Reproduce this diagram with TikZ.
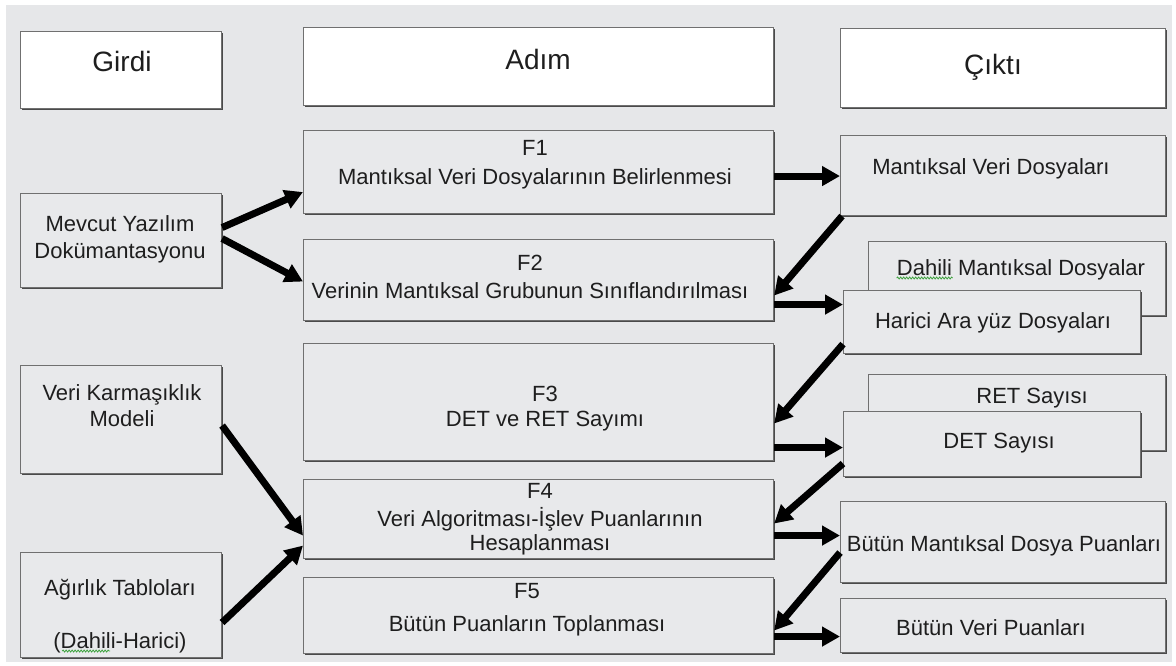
\documentclass[tikz,border=0pt]{standalone}
\usepackage{fontspec}
\setmainfont{Liberation Sans}
\usetikzlibrary{arrows.meta,shadows,decorations.pathmorphing}
\definecolor{bggray}{HTML}{E6E7E9}
\definecolor{boxgray}{HTML}{E8E9EB}
\definecolor{edge}{HTML}{707070}
\definecolor{shade}{HTML}{4A4A4A}
\definecolor{ink}{HTML}{1E1E1E}
\definecolor{spell}{HTML}{3FA33F}
\begin{document}
\begin{tikzpicture}[x=1pt,y=-1pt,
  box/.style={draw=edge, line width=1.1pt, fill=boxgray, anchor=north west, inner sep=0pt,
    drop shadow={shadow xshift=1.8pt,shadow yshift=-1.8pt,fill=shade,opacity=1}},
  wbox/.style={box, fill=white},
  txt/.style={anchor=base, inner sep=0pt, text=ink, font=\fontsize{22}{26}\selectfont},
  ttl/.style={anchor=base, inner sep=0pt, text=ink, font=\fontsize{28}{32}\selectfont},
  arr/.style={line width=7pt, draw=black, -{Triangle[length=18pt,width=19pt]}},
  squig/.style={draw=spell, line width=0.8pt, decorate, decoration={snake, amplitude=1pt, segment length=3pt}}
]
\useasboundingbox (0,0) rectangle (1176,666);
\fill[white] (0,0) rectangle (1176,666);
\fill[bggray] (6,5) rectangle (1172,662);

% title boxes
\node[wbox, minimum width=201pt, minimum height=77pt] (girdi) at (20,31) {};
\node[wbox, minimum width=470pt, minimum height=78pt] (adim) at (303,27) {};
\node[wbox, minimum width=325pt, minimum height=79pt] (cikti) at (840,28) {};
\node[ttl] (girdit) at (122,72) {Girdi};
\node[ttl] (adimt) at (538,70) {Adım};
\node[ttl] (ciktit) at (993,75) {Çıktı};

% input column
\node[box, minimum width=201pt, minimum height=94pt] (mev) at (20,193) {};
\node[box, minimum width=201pt, minimum height=108pt] (vk) at (20,365) {};
\node[box, minimum width=201pt, minimum height=105pt] (ag) at (20,552) {};
\node[txt] (meva) at (120,231) {Mevcut Yazılım};
\node[txt] (mevb) at (120,258) {Dokümantasyonu};
\node[txt] (vka) at (122,400) {Veri Karmaşıklık};
\node[txt] (vkb) at (122,426) {Modeli};
\node[txt] (aga) at (120,595) {Ağırlık Tabloları};
\node[txt] (agb) at (120,648) {(Dahili-Harici)};
\draw[squig] (agb.base west) ++(9,3) -- ++(48,0);

% step column
\node[box, minimum width=470pt, minimum height=83pt] (f1) at (303,130) {};
\node[box, minimum width=470pt, minimum height=81pt] (f2) at (303,239) {};
\node[box, minimum width=470pt, minimum height=117pt] (f3) at (303,343) {};
\node[box, minimum width=470pt, minimum height=79pt] (f4) at (303,479) {};
\node[box, minimum width=470pt, minimum height=76pt] (f5) at (303,577) {};
\node[txt] (f1a) at (535,156) {F1};
\node[txt] (f1b) at (535,185) {Mantıksal Veri Dosyalarının Belirlenmesi};
\node[txt] (f2a) at (530,270) {F2};
\node[txt] (f2b) at (530,298) {Verinin Mantıksal Grubunun Sınıflandırılması};
\node[txt] (f3a) at (545,401) {F3};
\node[txt] (f3b) at (545,426) {DET ve RET Sayımı};
\node[txt] (f4a) at (540,498) {F4};
\node[txt] (f4b) at (540,526) {Veri Algoritması-İşlev Puanlarının};
\node[txt] (f4c) at (540,550) {Hesaplanması};
\node[txt] (f5a) at (527,598) {F5};
\node[txt] (f5b) at (527,631) {Bütün Puanların Toplanması};

% output column
\node[box, minimum width=325pt, minimum height=80pt] (mvd) at (840,135) {};
\node[box, minimum width=297pt, minimum height=74pt] (dah) at (868,241) {};
\node[box, minimum width=297pt, minimum height=63pt] (har) at (843,290) {};
\node[box, minimum width=297pt, minimum height=76pt] (ret) at (868,374) {};
\node[box, minimum width=297pt, minimum height=65pt] (det) at (843,411) {};
\node[box, minimum width=325pt, minimum height=81pt] (bmdp) at (840,501) {};
\node[box, minimum width=325pt, minimum height=54pt] (bvp) at (840,598) {};
\node[txt] (mvdt) at (991,175) {Mantıksal Veri Dosyaları};
\node[txt] (daht) at (1021,275) {Dahili Mantıksal Dosyalar};
\draw[squig] (daht.base west) ++(0,3) -- ++(56,0);
\node[txt] (hart) at (993,328) {Harici Ara yüz Dosyaları};
\node[txt] (rett) at (1032,403) {RET Sayısı};
\node[txt] (dett) at (999,448) {DET Sayısı};
\node[txt] (bmdpt) at (1004,551) {Bütün Mantıksal Dosya Puanları};
\node[txt] (bvpt) at (991,635) {Bütün Veri Puanları};

% connectors
\draw[arr] ([yshift=13pt]mev.east) -- ([yshift=-20pt]f1.west);
\draw[arr] ([yshift=2pt]mev.east) -- ([yshift=-1.5pt]f2.west);
\draw[arr] ([yshift=-4pt]f1.east) -- ([yshift=-0.5pt]mvd.west);
\draw[arr] ([xshift=2pt]mvd.south west) -- ([yshift=-15.5pt]f2.east);
\draw[arr] ([yshift=-24.5pt]f2.east) -- ([yshift=17.5pt]har.west);
\draw[arr] ([yshift=10pt]har.south west) -- ([yshift=-21.5pt]f3.east);
\draw[arr] ([yshift=-45.5pt]f3.east) -- ([yshift=-3.5pt]det.west);
\draw[arr] ([yshift=-19.5pt]det.west) -- ([yshift=-4.5pt]f4.east);
\draw[arr] ([yshift=-16.5pt]f4.east) -- ([yshift=6.5pt]bmdp.west);
\draw[arr] ([yshift=-10.5pt]bmdp.west) -- ([yshift=-15pt]f5.east);
\draw[arr] ([yshift=-21pt]f5.east) -- ([yshift=-11pt]bvp.west);
\draw[arr] ([yshift=-6pt]vk.east) -- ([yshift=-16.5pt]f4.west);
\draw[arr] ([yshift=-17.5pt]ag.east) -- ([yshift=-26.5pt]f4.west);
\end{tikzpicture}
\end{document}
